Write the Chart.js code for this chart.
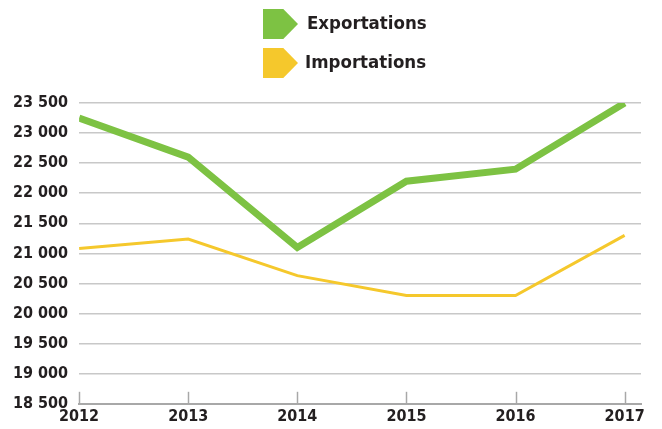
<!DOCTYPE html>
<html lang="fr">
<head>
<meta charset="utf-8">
<title>Exportations / Importations</title>
<script src="https://cdn.jsdelivr.net/npm/chart.js@4/dist/chart.umd.min.js"></script>
<style>
    html, body {
        margin: 0;
        padding: 0;
        background: #ffffff;
    }
    .wrap {
        position: relative;
        width: 662px;
        height: 429px;
    }
    #chart {
        position: absolute;
        left: 0;
        top: 0;
    }
    .legend-item {
        position: absolute;
        left: 263px;
        height: 30px;
        display: flex;
        align-items: center;
        font-family: 'DejaVu Sans Condensed', 'Liberation Sans Narrow', sans-serif;
        font-weight: bold;
        font-size: 18.5px;
        color: #231f20;
    }
    .legend-item span {
        padding-bottom: 3px;
    }
    .legend-item .swatch {
        width: 35px;
        height: 30px;
        margin-right: 9px;
        clip-path: polygon(0 0, 58% 0, 100% 50%, 58% 100%, 0 100%);
    }
</style>
</head>
<body>
<div class="wrap">
    <canvas id="chart" width="662" height="429"></canvas>
    <div class="legend-item" style="top: 9px;">
        <div class="swatch" style="background: #7dc243;"></div><span>Exportations</span>
    </div>
    <div class="legend-item" style="top: 48px;">
        <div class="swatch" style="background: #f5c82c; margin-right: 7px;"></div><span>Importations</span>
    </div>
</div>
<script>
// 데이터
const years = [2012, 2013, 2014, 2015, 2016, 2017];
const exportations = [23250, 22600, 21100, 22200, 22400, 23500];
const importations = [21080, 21240, 20630, 20300, 20300, 21300];

const GREEN = '#7dc243';
const YELLOW = '#f5c82c';
const FONT = "'DejaVu Sans Condensed', 'Liberation Sans Narrow', sans-serif";

// 18 500 처럼 공백 천 단위 구분
function formatNumber(v) {
    return String(v).replace(/\B(?=(\d{3})+(?!\d))/g, ' ');
}

function toPoints(values) {
    return years.map((y, i) => ({ x: y, y: values[i] }));
}

// 축 위쪽으로 작은 눈금 표시
const upTicks = {
    id: 'upTicks',
    afterDatasetsDraw(chart) {
        const x = chart.scales.x;
        const ctx = chart.ctx;
        const bottom = chart.chartArea.bottom;
        ctx.save();
        ctx.strokeStyle = '#a8a8a8';
        ctx.lineWidth = 1.5;
        x.ticks.forEach((t, i) => {
            const px = Math.round(x.getPixelForTick(i)) + 0.5;
            ctx.beginPath();
            ctx.moveTo(px, bottom);
            ctx.lineTo(px, bottom - 12);
            ctx.stroke();
        });
        ctx.restore();
    }
};

document.addEventListener('DOMContentLoaded', function() {
    initializeChart();
});

function initializeChart() {
    const ctx = document.getElementById('chart');
    new Chart(ctx, {
        type: 'line',
        data: {
            datasets: [
                {
                    label: 'Exportations',
                    data: toPoints(exportations),
                    borderColor: GREEN,
                    borderWidth: 7,
                    pointRadius: 0,
                    tension: 0,
                    borderJoinStyle: 'miter',
                    order: 1
                },
                {
                    label: 'Importations',
                    data: toPoints(importations),
                    borderColor: YELLOW,
                    borderWidth: 3,
                    pointRadius: 0,
                    tension: 0,
                    borderJoinStyle: 'miter',
                    order: 2
                }
            ]
        },
        options: {
            responsive: false,
            animation: false,
            layout: {
                padding: { top: 103, left: 2, right: 21, bottom: 0 }
            },
            plugins: {
                legend: { display: false },
                tooltip: { enabled: false }
            },
            scales: {
                x: {
                    type: 'linear',
                    min: 2012,
                    max: 2017.15,
                    grid: { display: false, drawTicks: false },
                    border: { display: true, color: '#a8a8a8', width: 2 },
                    ticks: {
                        stepSize: 1,
                        includeBounds: false,
                        padding: 3,
                        color: '#231f20',
                        font: { family: FONT, size: 16, weight: 'bold' },
                        callback: v => Number.isInteger(v) ? String(v) : ''
                    },
                    // 라벨 때문에 생기는 좌우 여백 제거
                    afterFit: scale => {
                        scale.paddingLeft = 0;
                        scale.paddingRight = 0;
                    }
                },
                y: {
                    min: 18500,
                    max: 23500,
                    grid: { color: '#c8c8c8', lineWidth: 1.5, drawTicks: false },
                    border: { display: false },
                    ticks: {
                        stepSize: 500,
                        padding: 11,
                        color: '#231f20',
                        font: { family: FONT, size: 16, weight: 'bold' },
                        callback: v => formatNumber(v)
                    }
                }
            }
        },
        plugins: [upTicks]
    });
}
</script>
</body>
</html>
